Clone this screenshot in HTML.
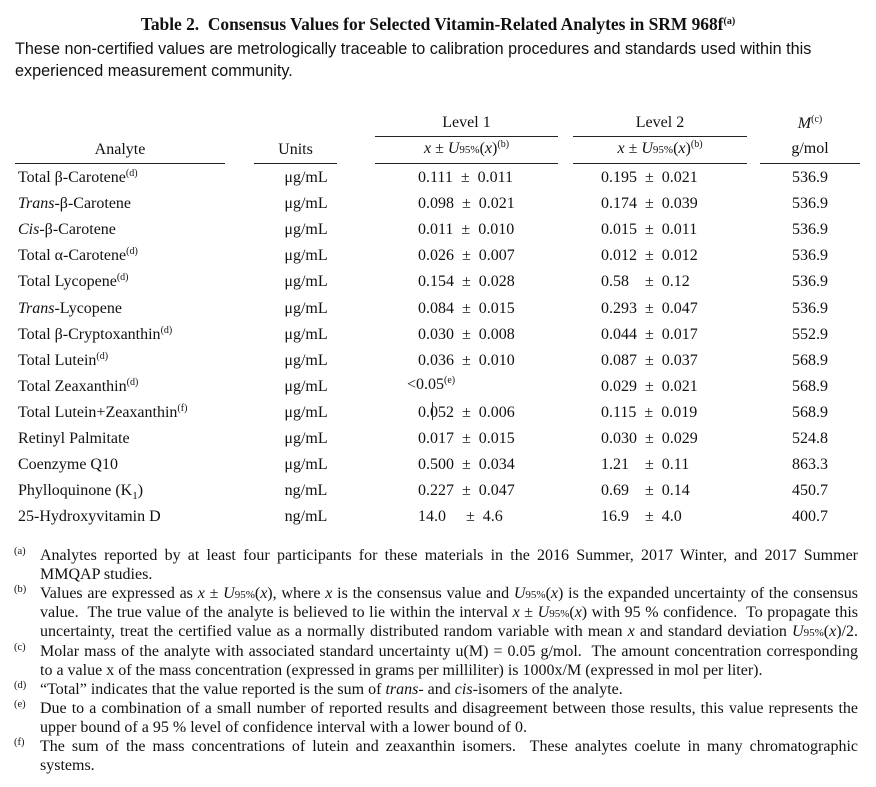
<!DOCTYPE html>
<html><head><meta charset="utf-8"><style>
body{margin:0;width:876px;height:787px;background:#fff;position:relative;font-family:"Liberation Serif",serif;color:#111;overflow:hidden}
.a{position:absolute;white-space:nowrap}
.t{font-size:16px}
sup{font-size:10px;vertical-align:6px;line-height:0}
.c{text-align:center}
.ln{position:absolute;height:1px;background:#222}
.fn{position:absolute;left:40px;width:818px;font-size:16px;line-height:19px}
.fn div{height:19px;overflow:hidden}
.j{text-align:justify;text-align-last:justify}
.fl{position:absolute;left:14px;font-size:10.5px}
.s{font-size:11px}
i{font-style:italic}
</style></head><body>
<div class="a" style="left:0;width:876px;top:14px;text-align:center;font-weight:bold;font-size:17.4px">Table 2.&nbsp; Consensus Values for Selected Vitamin-Related Analytes in SRM 968f<sup>(a)</sup></div>
<div class="a" style="left:15px;top:38px;font-family:'Liberation Sans',sans-serif;font-size:16.2px;line-height:22px">These non-certified values are metrologically traceable to calibration procedures and standards used within this<br>experienced measurement community.</div>

<div class="a t c" style="left:375px;width:183px;top:114px">Level 1</div>
<div class="a t c" style="left:573px;width:174px;top:114px">Level 2</div>
<div class="a t c" style="left:760px;width:100px;top:115px"><i>M</i><sup>(c)</sup></div>
<div class="ln" style="left:375px;width:183px;top:136px"></div>
<div class="ln" style="left:573px;width:174px;top:136px"></div>
<div class="a t c" style="left:15px;width:210px;top:141px">Analyte</div>
<div class="a t c" style="left:254px;width:83px;top:141px">Units</div>
<div class="a t c" style="left:375px;width:183px;top:140px"><i>x</i> ± <i>U</i><span style="font-size:11px">95%</span>(<i>x</i>)<sup>(b)</sup></div>
<div class="a t c" style="left:573px;width:174px;top:140px"><i>x</i> ± <i>U</i><span style="font-size:11px">95%</span>(<i>x</i>)<sup>(b)</sup></div>
<div class="a t c" style="left:760px;width:100px;top:140px">g/mol</div>
<div class="ln" style="left:15px;width:210px;top:163px"></div>
<div class="ln" style="left:254px;width:83px;top:163px"></div>
<div class="ln" style="left:375px;width:183px;top:163px"></div>
<div class="ln" style="left:573px;width:174px;top:163px"></div>
<div class="ln" style="left:760px;width:100px;top:163px"></div>

<div id="rows"></div>
<div style="position:absolute;left:432px;top:402px;width:1px;height:18px;background:#333"></div>

<div class="fl" style="top:546px">(a)</div><div class="fn" style="top:546px"><div class="j">Analytes reported by at least four participants for these materials in the 2016 Summer, 2017 Winter, and 2017 Summer</div><div>MMQAP studies.</div></div>
<div class="fl" style="top:584px">(b)</div><div class="fn" style="top:584px"><div class="j">Values are expressed as <i>x</i> ± <i>U</i><span class="s">95%</span>(<i>x</i>), where <i>x</i> is the consensus value and <i>U</i><span class="s">95%</span>(<i>x</i>) is the expanded uncertainty of the consensus</div><div class="j">value.&nbsp; The true value of the analyte is believed to lie within the interval <i>x</i> ± <i>U</i><span class="s">95%</span>(<i>x</i>) with 95 % confidence.&nbsp; To propagate this</div><div class="j">uncertainty, treat the certified value as a normally distributed random variable with mean <i>x</i> and standard deviation <i>U</i><span class="s">95%</span>(<i>x</i>)/2.</div></div>
<div class="fl" style="top:642px">(c)</div><div class="fn" style="top:642px"><div class="j">Molar mass of the analyte with associated standard uncertainty u(M) = 0.05 g/mol.&nbsp; The amount concentration corresponding</div><div>to a value x of the mass concentration (expressed in grams per milliliter) is 1000x/M (expressed in mol per liter).</div></div>
<div class="fl" style="top:680px">(d)</div><div class="fn" style="top:680px"><div>“Total” indicates that the value reported is the sum of <i>trans</i>- and <i>cis</i>-isomers of the analyte.</div></div>
<div class="fl" style="top:699px">(e)</div><div class="fn" style="top:699px"><div class="j">Due to a combination of a small number of reported results and disagreement between those results, this value represents the</div><div>upper bound of a 95 % level of confidence interval with a lower bound of 0.</div></div>
<div class="fl" style="top:737px">(f)</div><div class="fn" style="top:737px"><div class="j">The sum of the mass concentrations of lutein and zeaxanthin isomers.&nbsp; These analytes coelute in many chromatographic</div><div>systems.</div></div>

<script>
var R=[
["Total β-Carotene<sup>(d)</sup>","μg/mL","0.111","0.011","0.195","0.021","536.9"],
["<i>Trans</i>-β-Carotene","μg/mL","0.098","0.021","0.174","0.039","536.9"],
["<i>Cis</i>-β-Carotene","μg/mL","0.011","0.010","0.015","0.011","536.9"],
["Total α-Carotene<sup>(d)</sup>","μg/mL","0.026","0.007","0.012","0.012","536.9"],
["Total Lycopene<sup>(d)</sup>","μg/mL","0.154","0.028","0.58&nbsp;&nbsp;","0.12","536.9"],
["<i>Trans</i>-Lycopene","μg/mL","0.084","0.015","0.293","0.047","536.9"],
["Total β-Cryptoxanthin<sup>(d)</sup>","μg/mL","0.030","0.008","0.044","0.017","552.9"],
["Total Lutein<sup>(d)</sup>","μg/mL","0.036","0.010","0.087","0.037","568.9"],
["Total Zeaxanthin<sup>(d)</sup>","μg/mL","<0.05<sup>(e)</sup>",null,"0.029","0.021","568.9"],
["Total Lutein+Zeaxanthin<sup>(f)</sup>","μg/mL","0.052","0.006","0.115","0.019","568.9"],
["Retinyl Palmitate","μg/mL","0.017","0.015","0.030","0.029","524.8"],
["Coenzyme Q10","μg/mL","0.500","0.034","1.21&nbsp;&nbsp;","0.11","863.3"],
["Phylloquinone (K<sub style='font-size:11px'>1</sub>)","ng/mL","0.227","0.047","0.69&nbsp;&nbsp;","0.14","450.7"],
["25-Hydroxyvitamin D","ng/mL","14.0&nbsp;&nbsp;&nbsp;","4.6","16.9&nbsp;&nbsp;","4.0","400.7"]];
var h="";
R.forEach(function(r,i){var y=169+i*26.1;
h+='<div class="a t" style="left:18px;top:'+y+'px">'+r[0]+'</div>';
h+='<div class="a t c" style="left:254px;width:104px;top:'+y+'px">'+r[1]+'</div>';
if(r[3]===null)h+='<div class="a t" style="left:407px;top:'+(y-2)+'px">'+r[2]+'</div>';
else h+='<div class="a t" style="left:418px;top:'+y+'px">'+r[2]+' &nbsp;±&nbsp; '+r[3]+'</div>';
h+='<div class="a t" style="left:601px;top:'+y+'px">'+r[4]+' &nbsp;±&nbsp; '+r[5]+'</div>';
h+='<div class="a t c" style="left:760px;width:100px;top:'+y+'px">'+r[6]+'</div>';});
document.getElementById("rows").innerHTML=h;
</script>
</body></html>
